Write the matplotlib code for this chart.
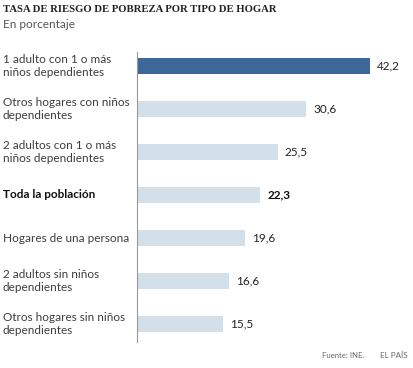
import matplotlib
matplotlib.use("Agg")
import matplotlib.pyplot as plt

categories = ["1 adulto con 1 o más\nniños dependientes",
              "Otros hogares con niños\ndependientes",
              "2 adultos con 1 o más\nniños dependientes",
              "Toda la población",
              "Hogares de una persona",
              "2 adultos sin niños\ndependientes",
              "Otros hogares sin niños\ndependientes"]
values = [42.2, 30.6, 25.5, 22.3, 19.6, 16.6, 15.5]
value_labels = ["42,2", "30,6", "25,5", "22,3", "19,6", "16,6", "15,5"]
bold_index = 3
highlight_index = 0

W, H = 414, 368
fig = plt.figure(figsize=(W/100, H/100), dpi=100)
fig.patch.set_facecolor("white")

ax_left, ax_right, ax_top, ax_bottom = 137, 414, 52, 342
ax = fig.add_axes([ax_left/W, 1-ax_bottom/H, (ax_right-ax_left)/W, (ax_bottom-ax_top)/H])
px_per_unit = 5.52
ax.set_xlim(0, (ax_right-ax_left)/px_per_unit)
ax.set_ylim(6.42, -0.33)

dark = "#3c6798"
light = "#d4e0e9"
colors = [dark if i == highlight_index else light for i in range(len(values))]
ys = list(range(len(values)))
ax.barh(ys, values, height=0.37, color=colors, zorder=2)

for y, v, lab in zip(ys, values, value_labels):
    ax.text(v + 1.3, y, lab, va="center", ha="left", fontsize=8.5,
            family="Lato", color="#111111" if y == bold_index else "#222222",
            fontweight="bold" if y == bold_index else "normal")

for y, cat in zip(ys, categories):
    fig.text(3/W, 1-(66 + y*43)/H, cat, va="center", ha="left", fontsize=8.5,
             family="Lato", linespacing=1.25,
             color="#111111" if y == bold_index else "#3d3d3d",
             fontweight="bold" if y == bold_index else "normal")

for s in ["top", "right", "bottom"]:
    ax.spines[s].set_visible(False)
ax.spines["left"].set_color("#999999")
ax.spines["left"].set_linewidth(0.8)
ax.set_xticks([])
ax.set_yticks([])

fig.text(3/W, 1-10/H, "TASA DE RIESGO DE POBREZA POR TIPO DE HOGAR", va="center",
         ha="left", fontsize=7.7, family="Liberation Serif", fontweight="bold",
         color="#222222")
fig.text(3/W, 1-25/H, "En porcentaje", va="center", ha="left", fontsize=8.5,
         family="Lato", color="#555555")
fig.text(322/W, 1-355/H, "Fuente: INE.", va="center", ha="left", fontsize=5.6,
         family="Lato", color="#666666")
fig.text(380/W, 1-355/H, "EL PAÍS", va="center", ha="left", fontsize=5.8,
         family="Lato", color="#666666")

fig.savefig("out.png", dpi=100, facecolor="white")
